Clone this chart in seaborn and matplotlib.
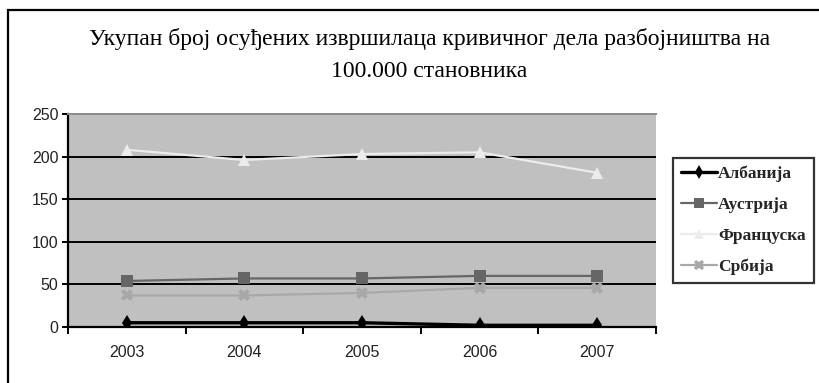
import matplotlib
matplotlib.use("Agg")
import matplotlib.pyplot as plt
from matplotlib.patches import Rectangle
from matplotlib.ticker import FixedLocator
import numpy as np
import pandas as pd
import seaborn as sns

years = ["2003", "2004", "2005", "2006", "2007"]
countries = ["Албанија", "Аустрија", "Француска", "Србија"]
albania = [5, 5, 5, 2, 2]
austria = [54, 57, 57, 60, 60]
france = [208, 196, 203, 205, 181]
serbia = [37, 37, 40, 46, 46]
yticks = [0, 50, 100, 150, 200, 250]
title_lines = ["Укупан број осуђених извршилаца кривичног дела разбојништва на",
               "100.000 становника"]

series = dict(zip(countries, [albania, austria, france, serbia]))
df = pd.DataFrame(
    [(y, c, v) for c in countries for y, v in zip(years, series[c])],
    columns=["year", "country", "value"],
)

sns.set_theme(style="white")
plt.rcParams["font.family"] = ["Liberation Sans", "DejaVu Sans"]

palette = {"Албанија": "#000000", "Аустрија": "#666666",
           "Француска": "#ececec", "Србија": "#a8a8a8"}
markers = {"Албанија": "d", "Аустрија": "s", "Француска": "^", "Србија": "X"}

fig = plt.figure(figsize=(8.19, 3.83), dpi=100)
fig.patch.set_facecolor("white")
W, H = 819, 383
ax = fig.add_axes([68 / W, 1 - 327 / H, (656 - 68) / W, (327 - 114) / H])
ax.set_facecolor("#c0c0c0")

# outer chart frame
fig.patches.append(Rectangle((8 / W, -0.1), 1.0, 1 - 10 / H + 0.1,
                             transform=fig.transFigure, fill=False,
                             edgecolor="black", linewidth=1.6, zorder=0))

sns.lineplot(data=df, x="year", y="value", hue="country", style="country",
             hue_order=countries, style_order=countries,
             palette=palette, markers=markers, dashes=False,
             markersize=9, markeredgewidth=0, ax=ax, legend=True,
             sort=False, zorder=3)
for line in ax.lines:
    if line.get_color() == "#000000":
        line.set_linewidth(2.4)
        line.set_markersize(8)
    else:
        line.set_linewidth(1.6)

ax.set_xlim(-0.5, 4.5)
ax.set_ylim(0, 250)
ax.set_yticks(yticks)
ax.set_xlabel("")
ax.set_ylabel("")
for v in yticks[1:-1]:
    ax.axhline(v, color="black", linewidth=1.4, zorder=1)

ax.spines["right"].set_visible(False)
ax.spines["top"].set_color("#8a8a8a")
ax.spines["top"].set_linewidth(1.4)
ax.spines["left"].set_color("black")
ax.spines["left"].set_linewidth(1.6)
ax.spines["bottom"].set_color("black")
ax.spines["bottom"].set_linewidth(1.6)

ax.tick_params(axis="y", which="major", direction="out", length=4, width=1.4,
               color="black", left=True, labelsize=11.5, labelcolor="#222222", pad=3)
ax.tick_params(axis="x", which="major", length=0, labelsize=11.5,
               labelcolor="#222222", pad=13)
ax.xaxis.set_minor_locator(FixedLocator(np.arange(-0.5, 4.6, 1.0)))
ax.tick_params(axis="x", which="minor", direction="out", length=5, width=1.4,
               color="black", bottom=True)

serif = ["Liberation Serif", "DejaVu Serif"]
fig.text(430 / W, 1 - 45 / H, title_lines[0], ha="center", va="baseline",
         fontsize=17, family=serif, color="black")
fig.text(429 / W, 1 - 77 / H, title_lines[1], ha="center", va="baseline",
         fontsize=17, family=serif, color="black")

handles, labels = ax.get_legend_handles_labels()
ax.legend_.remove()
leg = fig.legend(handles, labels, loc="upper left",
                 bbox_to_anchor=(673 / W, 1 - 158 / H),
                 bbox_transform=fig.transFigure,
                 prop={"family": "Liberation Serif", "weight": "bold", "size": 12.5},
                 frameon=True, fancybox=False, edgecolor="black",
                 handlelength=2.1, handletextpad=0.05, labelspacing=0.85,
                 borderpad=0.45, borderaxespad=0)
leg.get_frame().set_linewidth(1.6)
for h in leg.legend_handles:
    h.set_markersize(7.5)

fig.savefig("out.png", dpi=100, facecolor="white")
